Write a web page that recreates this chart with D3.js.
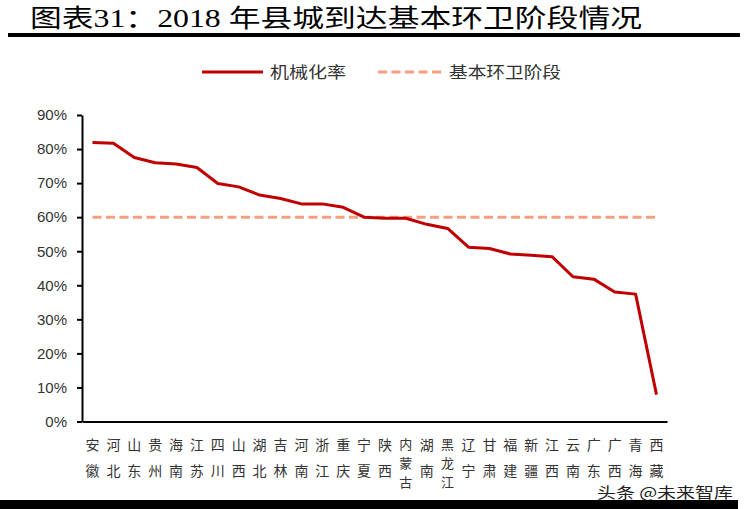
<!DOCTYPE html>
<html>
<head>
<meta charset="utf-8">
<script src="https://cdn.jsdelivr.net/npm/d3@7/dist/d3.min.js"></script>
<style>
  html, body { margin: 0; padding: 0; background: #fff; }
  svg { display: block; }
</style>
</head>
<body>
<svg id="chart" width="748" height="509"></svg>
<script>
// ---- data ----
const categories = ["安徽","河北","山东","贵州","海南","江苏","四川","山西","湖北","吉林","河南","浙江","重庆","宁夏","陕西","内蒙古","湖南","黑龙江","辽宁","甘肃","福建","新疆","江西","云南","广东","广西","青海","西藏"];
const mechRate = [81.9, 81.7, 77.5, 76.0, 75.6, 74.6, 69.9, 68.9, 66.5, 65.5, 63.9, 63.9, 62.9, 60.0, 59.7, 59.7, 57.9, 56.7, 51.2, 50.8, 49.2, 48.8, 48.4, 42.5, 41.8, 38.0, 37.4, 7.9];
const baseline = categories.map(() => 60);
const yTicks = [0, 10, 20, 30, 40, 50, 60, 70, 80, 90];
const seriesNames = ["机械化率", "基本环卫阶段"];
const titleText = "图表31：2018 年县城到达基本环卫阶段情况";
const watermark = "头条 @未来智库";

const svg = d3.select("#chart");
const cjk = "'Noto Sans CJK SC', 'Noto Sans', sans-serif";
const serifMix = "'Liberation Serif', 'Noto Sans CJK SC', serif";

// ---- title ----
svg.append("text")
  .attr("x", 30).attr("y", 27)
  .attr("font-family", serifMix)
  .attr("font-size", 25)
  .attr("fill", "#000")
  .attr("textLength", 612)
  .attr("lengthAdjust", "spacingAndGlyphs")
  .text(titleText);
svg.append("rect").attr("x", 8).attr("y", 33).attr("width", 732).attr("height", 4).attr("fill", "#000");

// ---- scales ----
const x = d3.scalePoint().domain(categories).range([92.5, 656.5]);
const y = d3.scaleLinear().domain([0, 90]).range([421.5, 115]);

// ---- y axis ----
const yAxis = svg.append("g")
  .attr("transform", "translate(82,0)")
  .call(d3.axisLeft(y).tickValues(yTicks).tickSize(5).tickSizeOuter(0).tickPadding(10).tickFormat(d => d + "%"));
yAxis.select(".domain").attr("stroke", "#000").attr("stroke-width", 2);
yAxis.selectAll(".tick line").attr("stroke", "#000").attr("stroke-width", 2);
yAxis.selectAll(".tick text")
  .attr("font-family", "'Liberation Sans', Arial, sans-serif")
  .attr("font-size", 15)
  .attr("fill", "#333");

// ---- x axis line ----
const xAxis = svg.append("g")
  .attr("transform", "translate(0," + y(0) + ")")
  .call(d3.axisBottom(d3.scaleLinear().domain([0, 1]).range([82, 667])).ticks(0).tickSize(0).tickSizeOuter(0));
xAxis.select(".domain").attr("stroke", "#000").attr("stroke-width", 2);

// ---- x labels (stacked chars) ----
const lbl = svg.append("g")
  .attr("font-family", cjk)
  .attr("fill", "#333")
  .attr("text-anchor", "middle");
categories.forEach(c => {
  const chars = Array.from(c);
  const three = chars.length === 3;
  const ys = three ? [449, 468, 487] : [450, 476];
  chars.forEach((ch, i) => {
    lbl.append("text")
      .attr("x", x(c)).attr("y", ys[i])
      .attr("font-size", three ? 13 : 14)
      .text(ch);
  });
});

// ---- lines ----
const line = d3.line().x((d, i) => x(categories[i])).y(d => y(d));

svg.append("path")
  .datum(baseline)
  .attr("d", line)
  .attr("fill", "none")
  .attr("stroke", "#F4A080")
  .attr("stroke-width", 3)
  .attr("stroke-dasharray", "9,4.5");

svg.append("path")
  .datum(mechRate)
  .attr("d", line)
  .attr("fill", "none")
  .attr("stroke", "#C00000")
  .attr("stroke-width", 3)
  .attr("stroke-linejoin", "round");

// ---- legend ----
const leg = svg.append("g");
leg.append("line").attr("x1", 202).attr("x2", 263).attr("y1", 72).attr("y2", 72)
  .attr("stroke", "#C00000").attr("stroke-width", 3);
leg.append("text").attr("x", 270).attr("y", 78)
  .attr("font-family", cjk).attr("font-size", 16).attr("fill", "#333")
  .attr("textLength", 76).attr("lengthAdjust", "spacingAndGlyphs")
  .text(seriesNames[0]);
leg.append("line").attr("x1", 378).attr("x2", 441).attr("y1", 72).attr("y2", 72)
  .attr("stroke", "#F4A080").attr("stroke-width", 3).attr("stroke-dasharray", "9,4.5");
leg.append("text").attr("x", 449).attr("y", 78)
  .attr("font-family", cjk).attr("font-size", 16).attr("fill", "#333")
  .attr("textLength", 112).attr("lengthAdjust", "spacingAndGlyphs")
  .text(seriesNames[1]);

// ---- watermark & bottom bar ----
svg.append("text").attr("x", 597).attr("y", 498)
  .attr("font-family", cjk).attr("font-size", 15).attr("fill", "#222")
  .attr("stroke", "#fff").attr("stroke-width", 2).attr("paint-order", "stroke")
  .attr("textLength", 136).attr("lengthAdjust", "spacingAndGlyphs")
  .text(watermark);
svg.append("rect").attr("x", 0).attr("y", 500).attr("width", 738).attr("height", 9).attr("fill", "#000");
</script>
</body>
</html>
